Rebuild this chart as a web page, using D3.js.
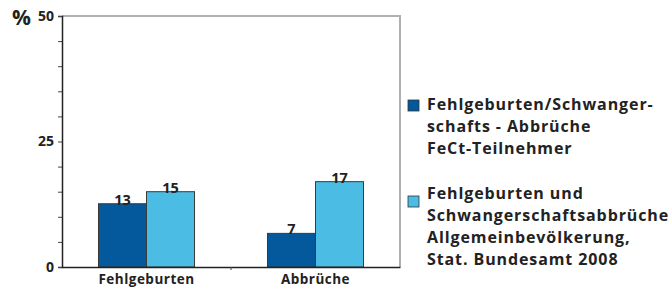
<!DOCTYPE html>
<html><head><meta charset="utf-8">
<script src="https://cdn.jsdelivr.net/npm/d3@7/dist/d3.min.js"></script>
<style>
html,body{margin:0;padding:0;background:#fff;}
svg text{font-family:"Open Sans",sans-serif;font-weight:700;fill:#222;}
</style></head>
<body><svg id="c" width="672" height="291"></svg>
<script>
const categories = ["Fehlgeburten", "Abbrüche"];
const seriesNames = ["FeCt", "Bundesamt"];
const fectValues = [12.6, 6.7];
const bundesValues = [15, 17];
const yTicks = [0, 5, 10, 15, 20, 25, 30, 35, 40, 45, 50];
const yLabels = [0, 25, 50];
const legendLines = [
  ["Fehlgeburten/Schwanger-", "schafts - Abbrüche", "FeCt-Teilnehmer"],
  ["Fehlgeburten und", "Schwangerschaftsabbrüche", "Allgemeinbevölkerung,", "Stat. Bundesamt 2008"]
];
const colors = ["#03599b", "#4bbce4"];

const svg = d3.select("#c");
const L = 62, R = 400, T = 16, B = 267;
const y = d3.scaleLinear().domain([0, 50]).range([B, T]);
const x0 = d3.scaleBand().domain(categories).range([L, R]).paddingInner(0).paddingOuter(0);
const x1 = d3.scaleBand().domain(seriesNames).range([0, x0.bandwidth()]).paddingInner(0).paddingOuter(0.76);

// top & right border
svg.append("path").attr("d", `M${L},${T}H${R}V${B}`).attr("fill","none").attr("stroke","#b0b0b0").attr("stroke-width",2);

const rows = categories.map((c,i)=>({cat:c, vals:[fectValues[i], bundesValues[i]]}));
const g = svg.append("g");
rows.forEach(r=>{
  r.vals.forEach((v,j)=>{
    const bx = x0(r.cat) + x1(seriesNames[j]);
    g.append("rect").attr("x", bx).attr("y", y(v)).attr("width", x1.bandwidth()).attr("height", y(0)-y(v))
      .attr("fill", colors[j]).attr("stroke","#3a3a3a").attr("stroke-width",1);
    g.append("text").attr("x", bx + x1.bandwidth()/2).attr("y", y(v)+1).attr("text-anchor","middle")
      .attr("font-size",14.5).text(d3.format(".0f")(v));
  });
});

// y axis
const ya = svg.append("g").attr("transform",`translate(${L},0)`)
  .call(d3.axisLeft(y).tickValues(yTicks).tickSize(4).tickPadding(4).tickFormat(d=>yLabels.includes(d)?d:""));
ya.select(".domain").attr("stroke","#222").attr("stroke-width",1.5);
ya.selectAll(".tick line").attr("stroke","#444");
ya.selectAll(".tick text").attr("font-size",14).attr("fill","#333").attr("font-family","Open Sans").attr("font-weight",700);

// x axis
const xa = svg.append("g").attr("transform",`translate(0,${B})`)
  .call(d3.axisBottom(x0).tickSize(0).tickPadding(10));
xa.select(".domain").attr("stroke","#222").attr("stroke-width",1.5);
xa.selectAll(".tick text").attr("font-size",13.5).attr("letter-spacing","0.5px").attr("fill","#222")
  .attr("font-family","Open Sans").attr("font-weight",700).attr("dy","0.5em");
svg.append("line").attr("x1", x0(categories[1])).attr("x2", x0(categories[1])).attr("y1",B).attr("y2",B+3).attr("stroke","#444");

// % label
svg.append("text").attr("x",12).attr("y",25).attr("font-size",21).attr("fill","#111").text("%");

// legend
const leg = svg.append("g");
const entryTop = [110, 199];
const sqY = [100, 196];
legendLines.forEach((lines,i)=>{
  leg.append("rect").attr("x",408).attr("y",sqY[i]).attr("width",11).attr("height",11)
    .attr("fill",colors[i]).attr("stroke","#333").attr("stroke-width",0.8);
  lines.forEach((t,k)=>{
    leg.append("text").attr("x",427).attr("y",entryTop[i]+k*22).attr("font-size",16)
      .attr("letter-spacing","0.9px").text(t);
  });
});
</script></body></html>
